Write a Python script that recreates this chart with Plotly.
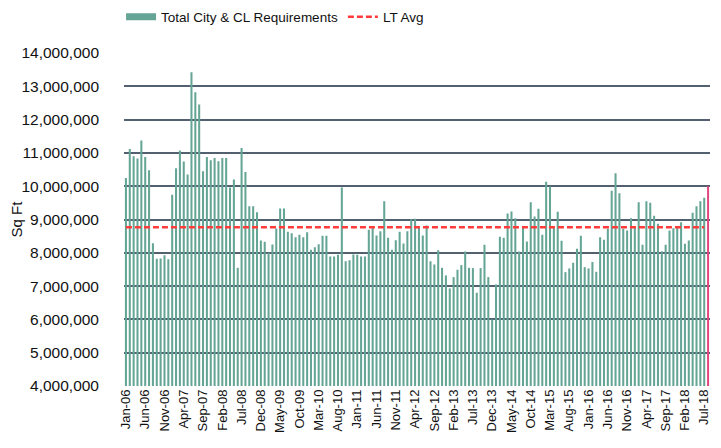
import plotly.graph_objects as go
import pandas as pd

# Monthly categories Jan-06 .. Jul-18
months = [d.strftime("%b-%y") for d in pd.date_range("2006-01-01", "2018-07-01", freq="MS")]

# Total City & CL Requirements (millions of sq ft)
requirements_m = [
    10.25, 11.12, 10.90, 10.83, 11.37, 10.88, 10.48, 8.29, 7.82, 7.83, 7.93, 7.81,
    9.74, 10.54, 11.07, 10.74, 10.35, 13.42, 12.82, 12.45, 10.45, 10.88, 10.78, 10.85,
    10.75, 10.85, 10.85, 9.96, 10.20, 7.55, 11.15, 10.43, 9.40, 9.40, 9.22, 8.37,
    8.33, 8.00, 8.25, 8.73, 9.33, 9.33, 8.63, 8.59, 8.47, 8.54, 8.47, 8.62,
    8.09, 8.17, 8.26, 8.51, 8.51, 7.89, 7.89, 7.94, 9.96, 7.75, 7.78, 7.95,
    7.94, 7.89, 7.89, 8.69, 8.75, 8.52, 8.65, 9.55, 8.45, 8.09, 8.38, 8.63,
    8.28, 8.65, 9.01, 9.02, 8.75, 8.52, 8.82, 7.75, 7.65, 8.08, 7.55, 7.32,
    6.93, 7.27, 7.49, 7.63, 8.04, 7.55, 7.54, 6.80, 7.54, 8.24, 7.27, 6.00,
    7.05, 8.48, 8.45, 9.18, 9.24, 9.04, 8.04, 8.77, 8.34, 9.52, 9.09, 9.32,
    8.54, 10.13, 9.99, 8.77, 9.23, 8.36, 7.42, 7.53, 7.70, 8.12, 8.51, 7.57,
    7.53, 7.72, 7.43, 8.47, 8.39, 8.72, 9.86, 10.39, 9.79, 8.72, 8.67, 9.04,
    8.78, 9.52, 8.24, 9.55, 9.50, 9.11, 8.87, 8.05, 8.24, 8.67, 8.74, 8.75,
    8.92, 8.27, 8.37, 9.20, 9.40, 9.55, 9.65,
]
requirements = [v * 1_000_000 for v in requirements_m]

lt_avg = 8_770_000
marker_top = 10_000_000  # pink vertical marker at the right edge

tick_labels = [
    "Jan-06", "Jun-06", "Nov-06", "Apr-07", "Sep-07", "Feb-08", "Jul-08", "Dec-08",
    "May-09", "Oct-09", "Mar-10", "Aug-10", "Jan-11", "Jun-11", "Nov-11", "Apr-12",
    "Sep-12", "Feb-13", "Jul-13", "Dec-13", "May-14", "Oct-14", "Mar-15", "Aug-15",
    "Jan-16", "Jun-16", "Nov-16", "Apr-17", "Sep-17", "Feb-18", "Jul-18",
]
y_ticks = list(range(4_000_000, 14_000_001, 1_000_000))

FONT = "Liberation Sans, Arial, sans-serif"
TEAL = "#64a595"

fig = go.Figure()
fig.add_trace(go.Bar(
    x=months, y=requirements, name="Total City & CL Requirements",
    marker=dict(color=TEAL, line=dict(width=0)), showlegend=False,
))
# legend swatch for the bars (wide rectangle like the reference)
fig.add_trace(go.Scatter(
    x=[None], y=[None], name="Total City & CL Requirements", mode="lines",
    line=dict(color=TEAL, width=7),
))
fig.add_trace(go.Scatter(
    x=months, y=[lt_avg] * len(months), name="LT Avg", mode="lines",
    line=dict(color="#ff3b3b", width=2.5, dash="6px,3px"),
))
fig.add_shape(type="line", xref="x", yref="y",
              x0=len(months), x1=len(months), y0=y_ticks[0], y1=marker_top,
              line=dict(color="#e2467f", width=2))

fig.update_layout(
    width=721, height=448,
    margin=dict(l=116, r=19, t=45, b=70, autoexpand=False),
    paper_bgcolor="white", plot_bgcolor="white",
    font=dict(family=FONT, size=15, color="#111111"),
    bargap=0.47,
    showlegend=True,
    legend=dict(orientation="h", x=-0.005, xanchor="left", y=1.108, yanchor="middle",
                font=dict(size=13.5, family="Liberation Sans Narrow, Arial Narrow, Liberation Sans, Arial"),
                itemwidth=30, traceorder="normal"),
)
fig.update_xaxes(
    type="category", range=[-0.5, len(months) + 0.5],
    tickmode="array", tickvals=tick_labels, ticktext=tick_labels,
    tickangle=-90, tickfont=dict(size=13, color="#111111"),
    showgrid=False, ticks="", showline=False, zeroline=False,
)
fig.update_yaxes(
    range=[4_000_000, 14_000_000], tickvals=y_ticks, tickformat=",d",
    showgrid=True, gridcolor="#526070", gridwidth=1.6, layer="above traces",
    tickfont=dict(size=15.5, color="#111111"), ticklabelstandoff=24,
    title=dict(text="Sq Ft", font=dict(size=15), standoff=5),
    zeroline=False, showline=False, ticks="",
)

fig.write_html("out.html")
